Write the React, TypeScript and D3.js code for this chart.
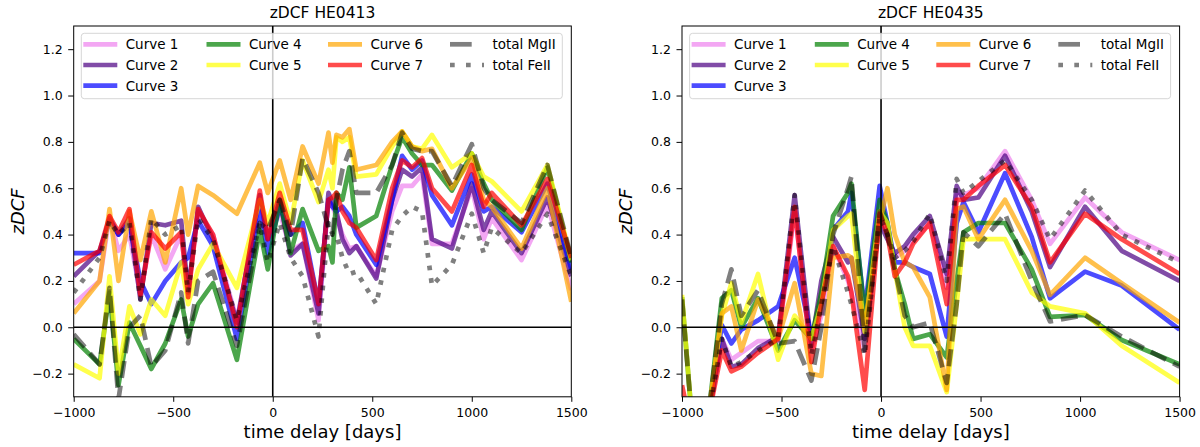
import React, { useRef, useEffect } from "react";
import * as d3 from "d3";

// series labels / colours (same order in both panels)
const seriesNames = ["Curve 1", "Curve 2", "Curve 3", "Curve 4", "Curve 5", "Curve 6", "Curve 7", "total MgII", "total FeII"];
const seriesColors = ["violet", "indigo", "blue", "green", "yellow", "orange", "red", "black", "black"];

const xTicks = [-1000, -500, 0, 500, 1000, 1500];
const yTicks = [-0.2, 0, 0.2, 0.4, 0.6, 0.8, 1.0, 1.2];

// ---- HE0413 ----
const lagsHE0413 = [-1000, -870, -820, -775, -720, -665, -610, -540, -460, -425, -375, -300, -180, -65, -25, 35, 90, 150, 230, 280, 300, 320, 350, 385, 420, 520, 600, 650, 700, 750, 800, 900, 1000, 1060, 1100, 1250, 1380, 1500];
const he0413Curve1 = [0.10, 0.20, 0.48, 0.33, 0.40, 0.14, 0.40, 0.25, 0.40, 0.15, 0.50, 0.40, 0.03, 0.55, 0.38, 0.50, 0.33, 0.36, 0.03, 0.55, 0.52, 0.48, 0.40, 0.34, 0.35, 0.22, 0.50, 0.61, 0.61, 0.66, 0.36, 0.36, 0.60, 0.38, 0.47, 0.29, 0.53, 0.16];
const he0413Curve2 = [0.22, 0.33, 0.46, 0.40, 0.47, 0.12, 0.45, 0.44, 0.46, 0.15, 0.52, 0.38, 0.02, 0.57, 0.38, 0.55, 0.31, 0.36, 0.06, 0.58, 0.54, 0.50, 0.38, 0.32, 0.35, 0.21, 0.55, 0.68, 0.65, 0.69, 0.38, 0.34, 0.62, 0.42, 0.50, 0.32, 0.56, 0.22];
const he0413Curve3 = [0.32, 0.32, 0.47, 0.40, 0.45, 0.20, 0.10, 0.20, 0.28, 0.30, 0.46, 0.35, -0.05, 0.52, 0.32, 0.52, 0.40, 0.45, 0.10, 0.55, 0.52, 0.50, 0.52, 0.48, 0.40, 0.27, 0.55, 0.74, 0.68, 0.72, 0.57, 0.44, 0.66, 0.50, 0.52, 0.41, 0.62, 0.25];
const he0413Curve4 = [-0.05, -0.16, 0.15, -0.25, 0.02, -0.08, -0.18, -0.07, 0.12, -0.04, 0.10, 0.19, -0.14, 0.42, 0.25, 0.55, 0.32, 0.51, 0.33, 0.35, 0.28, 0.58, 0.55, 0.69, 0.43, 0.48, 0.70, 0.82, 0.75, 0.70, 0.70, 0.59, 0.75, 0.62, 0.55, 0.42, 0.69, 0.28];
const he0413Curve5 = [-0.16, -0.22, 0.22, -0.20, 0.09, -0.03, 0.12, 0.05, 0.28, 0.10, 0.25, 0.36, 0.17, 0.55, 0.45, 0.62, 0.45, 0.72, 0.54, 0.68, 0.60, 0.82, 0.80, 0.82, 0.65, 0.66, 0.78, 0.845, 0.78, 0.77, 0.83, 0.69, 0.75, 0.65, 0.63, 0.50, 0.70, 0.29];
const he0413Curve6 = [0.06, 0.20, 0.51, 0.20, 0.50, 0.29, 0.50, 0.28, 0.60, 0.40, 0.61, 0.57, 0.49, 0.71, 0.58, 0.72, 0.55, 0.78, 0.62, 0.84, 0.71, 0.83, 0.82, 0.855, 0.68, 0.70, 0.80, 0.845, 0.78, 0.76, 0.77, 0.60, 0.73, 0.55, 0.52, 0.34, 0.60, 0.11];
const he0413Curve7 = [0.27, 0.33, 0.48, 0.41, 0.51, 0.14, 0.41, 0.34, 0.41, 0.13, 0.51, 0.40, 0.00, 0.59, 0.38, 0.58, 0.42, 0.42, 0.10, 0.55, 0.56, 0.58, 0.50, 0.45, 0.43, 0.29, 0.60, 0.72, 0.69, 0.73, 0.60, 0.50, 0.70, 0.52, 0.58, 0.44, 0.64, 0.30];
const he0413MgII = [-0.03, -0.16, 0.17, -0.31, 0.00, 0.05, -0.17, -0.10, 0.15, -0.07, 0.20, 0.24, -0.08, 0.45, 0.42, 0.55, 0.40, 0.73, 0.58, 0.43, 0.40, 0.55, 0.68, 0.76, 0.58, 0.58, 0.70, 0.84, 0.77, 0.76, 0.76, 0.61, 0.79, 0.60, 0.55, 0.45, 0.70, 0.30];
const he0413FeII = [0.15, 0.30, 0.46, 0.40, 0.45, 0.12, 0.47, 0.40, 0.44, 0.15, 0.47, 0.38, 0.03, 0.45, 0.28, 0.45, 0.30, 0.22, -0.04, 0.45, 0.40, 0.40, 0.30, 0.23, 0.24, 0.10, 0.42, 0.48, 0.52, 0.50, 0.18, 0.27, 0.49, 0.32, 0.43, 0.32, 0.49, 0.22];

// ---- HE0435 ----
const lagsHE0435 = [-1000, -950, -870, -800, -752, -702, -618, -517, -434, -350, -300, -241, -166, -149, -82, -7, 32, 69, 119, 161, 245, 330, 380, 414, 489, 623, 757, 849, 1025, 1209, 1500];
const he0435Curve1 = [-0.40, -0.45, -0.40, -0.05, -0.14, -0.11, -0.06, -0.06, 0.50, -0.10, 0.05, 0.35, 0.20, 0.15, -0.10, 0.48, 0.42, 0.30, 0.33, 0.37, 0.45, 0.17, 0.57, 0.57, 0.60, 0.76, 0.55, 0.36, 0.56, 0.41, 0.29];
const he0435Curve2 = [-0.40, -0.45, -0.40, -0.05, -0.17, -0.16, -0.09, -0.04, 0.57, -0.08, 0.20, 0.39, 0.28, 0.30, -0.05, 0.45, 0.38, 0.32, 0.35, 0.40, 0.48, 0.23, 0.61, 0.55, 0.56, 0.74, 0.50, 0.26, 0.52, 0.33, 0.20];
const he0435Curve3 = [-0.40, -0.45, -0.40, 0.01, -0.07, -0.01, 0.03, 0.09, 0.30, -0.04, 0.10, 0.42, 0.50, 0.58, 0.07, 0.61, 0.45, 0.28, 0.28, 0.26, 0.23, -0.04, 0.45, 0.54, 0.41, 0.665, 0.39, 0.125, 0.24, 0.18, -0.01];
const he0435Curve4 = [0.13, -0.40, -0.40, 0.125, 0.16, 0.00, 0.125, -0.10, 0.03, -0.05, 0.15, 0.48, 0.58, 0.62, 0.05, 0.55, 0.45, 0.25, 0.10, -0.05, -0.03, -0.13, 0.20, 0.41, 0.45, 0.45, 0.25, 0.045, 0.053, -0.055, -0.16];
const he0435Curve5 = [0.14, -0.40, -0.40, 0.05, 0.19, 0.02, 0.23, -0.14, 0.05, -0.05, 0.10, 0.42, 0.48, 0.49, -0.02, 0.50, 0.45, 0.25, 0.00, -0.08, -0.08, -0.28, 0.10, 0.38, 0.38, 0.38, 0.15, 0.09, 0.06, -0.08, -0.24];
const he0435Curve6 = [-0.40, -0.45, -0.40, 0.06, 0.09, -0.10, 0.12, -0.05, 0.19, -0.20, -0.21, 0.30, 0.31, 0.30, 0.00, 0.45, 0.60, 0.40, 0.28, 0.26, 0.13, -0.27, 0.51, 0.52, 0.38, 0.55, 0.33, 0.14, 0.30, 0.19, 0.02];
const he0435Curve7 = [-0.25, -0.45, -0.40, -0.10, -0.19, -0.17, -0.11, -0.05, 0.52, -0.15, 0.10, 0.35, 0.22, 0.15, -0.27, 0.49, 0.40, 0.22, 0.28, 0.36, 0.45, 0.10, 0.55, 0.55, 0.61, 0.70, 0.52, 0.28, 0.49, 0.38, 0.23];
const he0435MgII = [0.12, -0.40, -0.40, 0.10, 0.25, 0.05, 0.16, -0.07, -0.06, -0.23, 0.00, 0.40, 0.60, 0.65, -0.10, 0.50, 0.40, 0.25, 0.05, 0.00, 0.02, -0.24, 0.10, 0.41, 0.35, 0.49, 0.20, 0.025, 0.053, -0.04, -0.17];
const he0435FeII = [-0.40, -0.45, -0.40, -0.05, -0.17, -0.15, -0.10, -0.05, 0.57, -0.12, 0.10, 0.35, 0.15, 0.10, -0.12, 0.48, 0.40, 0.30, 0.33, 0.37, 0.49, 0.20, 0.64, 0.58, 0.63, 0.72, 0.55, 0.38, 0.59, 0.40, 0.28];

const he0413Series = [he0413Curve1, he0413Curve2, he0413Curve3, he0413Curve4, he0413Curve5, he0413Curve6, he0413Curve7, he0413MgII, he0413FeII];
const he0435Series = [he0435Curve1, he0435Curve2, he0435Curve3, he0435Curve4, he0435Curve5, he0435Curve6, he0435Curve7, he0435MgII, he0435FeII];

const W = 1200;
const H = 447;
const FONT = "DejaVu Sans, sans-serif";

function styleFor(i: number) {
  if (i === 7) return { opacity: 0.5, dash: "17,8" };
  if (i === 8) return { opacity: 0.5, dash: "4.7,8" };
  return { opacity: 0.7, dash: null as string | null };
}

function drawPanel(
  svg: d3.Selection<SVGSVGElement, unknown, null, undefined>,
  left: number,
  title: string,
  lags: number[],
  series: number[][],
  id: string
) {
  const top = 26;
  const pw = 497.6;
  const ph = 370.8;

  const x = d3.scaleLinear().domain([-1000, 1500]).range([left, left + pw]);
  const y = d3.scaleLinear().domain([-0.3, 1.3]).range([top + ph, top]);

  svg.append("clipPath").attr("id", id)
    .append("rect").attr("x", left).attr("y", top).attr("width", pw).attr("height", ph);

  const plot = svg.append("g").attr("clip-path", `url(#${id})`);

  const line = d3.line<number>()
    .x((_, i) => x(lags[i]))
    .y(d => y(d));

  series.forEach((vals, i) => {
    const st = styleFor(i);
    const p = plot.append("path")
      .datum(vals)
      .attr("fill", "none")
      .attr("stroke", seriesColors[i])
      .attr("stroke-opacity", st.opacity)
      .attr("stroke-width", 4.7)
      .attr("stroke-linejoin", "round")
      .attr("d", line);
    if (st.dash) p.attr("stroke-dasharray", st.dash);
  });

  // zero lines
  plot.append("line")
    .attr("x1", left).attr("x2", left + pw)
    .attr("y1", y(0)).attr("y2", y(0))
    .attr("stroke", "black").attr("stroke-width", 1.6);
  plot.append("line")
    .attr("x1", x(0)).attr("x2", x(0))
    .attr("y1", top).attr("y2", top + ph)
    .attr("stroke", "black").attr("stroke-width", 1.6);

  // axes
  const fmtX = (d: d3.NumberValue) => String(d).replace("-", "\u2212");
  const fmtY = (d: d3.NumberValue) => d3.format(".1f")(d as number).replace("-", "\u2212");

  const gx = svg.append("g")
    .attr("transform", `translate(0,${top + ph})`)
    .call(d3.axisBottom(x).tickValues(xTicks).tickFormat(fmtX).tickSize(5).tickPadding(6.8).tickSizeOuter(0));
  const gy = svg.append("g")
    .attr("transform", `translate(${left},0)`)
    .call(d3.axisLeft(y).tickValues(yTicks).tickFormat(fmtY).tickSize(5.5).tickPadding(5.5).tickSizeOuter(0));
  [gx, gy].forEach(g => {
    g.select(".domain").remove();
    g.selectAll("line").attr("stroke", "black").attr("stroke-width", 1);
    g.selectAll("text").attr("fill", "black").style("font-family", FONT).style("font-size", "12.5px");
  });

  // frame
  svg.append("rect")
    .attr("x", left).attr("y", top).attr("width", pw).attr("height", ph)
    .attr("fill", "none").attr("stroke", "black").attr("stroke-width", 1);

  svg.append("text")
    .attr("x", left + pw / 2).attr("y", 18.3)
    .attr("text-anchor", "middle")
    .style("font-family", FONT).style("font-size", "15.5px")
    .text(title);

  svg.append("text")
    .attr("x", left + pw / 2).attr("y", 438)
    .attr("text-anchor", "middle")
    .style("font-family", FONT).style("font-size", "18px")
    .text("time delay [days]");

  svg.append("text")
    .attr("transform", `translate(${left - 49.7},${top + ph / 2}) rotate(-90)`)
    .attr("text-anchor", "middle")
    .style("font-family", FONT).style("font-size", "18px").style("font-style", "italic")
    .text("zDCF");

  // legend
  const lx = left + 7.6;
  const ly = 33.3;
  const legend = svg.append("g");
  legend.append("rect")
    .attr("x", lx).attr("y", ly).attr("width", 481).attr("height", 65.4)
    .attr("rx", 3)
    .attr("fill", "white").attr("fill-opacity", 0.8)
    .attr("stroke", "#cccccc").attr("stroke-opacity", 0.8).attr("stroke-width", 1);

  const colStarts = [2, 125.2, 246.7, 368.7];
  const rowY = [11, 31.7, 52.4];
  const layout = [[0, 0], [0, 1], [0, 2], [1, 0], [1, 1], [2, 0], [2, 1], [3, 0], [3, 1]];
  seriesNames.forEach((name, i) => {
    const [c, r] = layout[i];
    const hx = lx + colStarts[c];
    const hy = ly + rowY[r];
    const st = styleFor(i);
    const h = legend.append("line")
      .attr("x1", hx).attr("x2", hx + 34)
      .attr("y1", hy).attr("y2", hy)
      .attr("stroke", seriesColors[i])
      .attr("stroke-opacity", st.opacity)
      .attr("stroke-width", 4.7);
    if (i === 7) h.attr("stroke-dasharray", "21.7,20");
    if (i === 8) h.attr("stroke-dasharray", "4.7,11.3");
    legend.append("text")
      .attr("x", hx + 42.4).attr("y", hy)
      .attr("dy", "0.36em")
      .style("font-family", FONT).style("font-size", "13.5px")
      .text(name);
  });
}

export default function App() {
  const ref = useRef<SVGSVGElement>(null);

  useEffect(() => {
    if (!ref.current) return;
    const svg = d3.select(ref.current);
    svg.selectAll("*").remove();
    svg.append("rect").attr("width", W).attr("height", H).attr("fill", "white");
    drawPanel(svg, 73.7, "zDCF HE0413", lagsHE0413, he0413Series, "clip-he0413");
    drawPanel(svg, 682, "zDCF HE0435", lagsHE0435, he0435Series, "clip-he0435");
  }, []);

  return (
    <svg
      ref={ref}
      width={W}
      height={H}
      style={{ position: "absolute", left: 0, top: 0, display: "block" }}
    />
  );
}
